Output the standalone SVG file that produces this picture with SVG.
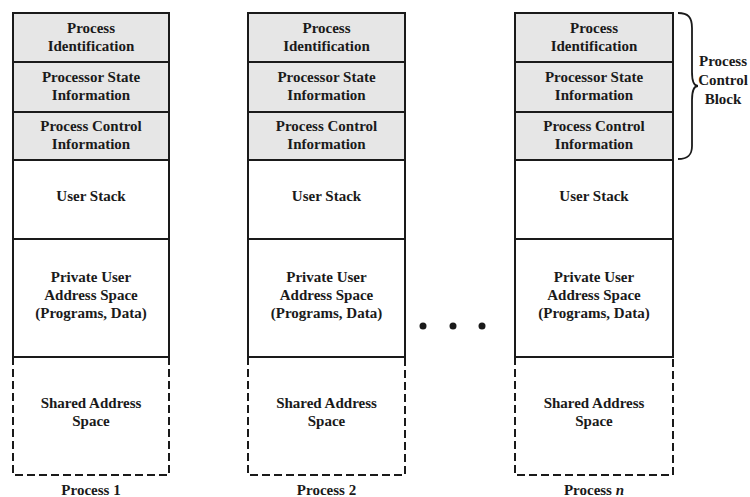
<svg xmlns="http://www.w3.org/2000/svg" width="750" height="497" viewBox="0 0 750 497" font-family="'Liberation Serif', serif">
<style>
  text { font-family: 'Liberation Serif', serif; font-weight: bold; font-size: 15px; fill: #1a1a1a; text-anchor: middle; }
  .pcb { fill: #e6e6e6; stroke: #1a1a1a; stroke-width: 2; }
  .plain { fill: #ffffff; stroke: #1a1a1a; stroke-width: 2; }
  .dash { fill: none; stroke: #1a1a1a; stroke-width: 2; stroke-dasharray: 8 4; }
  .solid { fill: none; stroke: #1a1a1a; stroke-width: 2; }
</style>
<rect width="750" height="497" fill="#ffffff"/>

<g id="process1">
  <rect class="pcb" x="13" y="13" width="156" height="49"/>
  <rect class="pcb" x="13" y="62" width="156" height="50"/>
  <rect class="pcb" x="13" y="112" width="156" height="48"/>
  <rect class="plain" x="13" y="160" width="156" height="79"/>
  <rect class="plain" x="13" y="239" width="156" height="118"/>
  <path class="dash" d="M13,357 V475 H169 V357"/>
  <line class="solid" x1="13" y1="357" x2="169" y2="357"/>
  <text x="91" y="33">Process</text>
  <text x="91" y="51">Identification</text>
  <text x="91" y="82">Processor State</text>
  <text x="91" y="100">Information</text>
  <text x="91" y="131">Process Control</text>
  <text x="91" y="149">Information</text>
  <text x="91" y="201">User Stack</text>
  <text x="91" y="282">Private User</text>
  <text x="91" y="300">Address Space</text>
  <text x="91" y="318">(Programs, Data)</text>
  <text x="91" y="408">Shared Address</text>
  <text x="91" y="426">Space</text>
  <text x="91" y="495">Process 1</text>
</g>

<g id="process2">
  <rect class="pcb" x="248" y="13" width="157" height="49"/>
  <rect class="pcb" x="248" y="62" width="157" height="50"/>
  <rect class="pcb" x="248" y="112" width="157" height="48"/>
  <rect class="plain" x="248" y="160" width="157" height="79"/>
  <rect class="plain" x="248" y="239" width="157" height="118"/>
  <path class="dash" d="M248,357 V475 H405 V357"/>
  <line class="solid" x1="248" y1="357" x2="405" y2="357"/>
  <text x="326.5" y="33">Process</text>
  <text x="326.5" y="51">Identification</text>
  <text x="326.5" y="82">Processor State</text>
  <text x="326.5" y="100">Information</text>
  <text x="326.5" y="131">Process Control</text>
  <text x="326.5" y="149">Information</text>
  <text x="326.5" y="201">User Stack</text>
  <text x="326.5" y="282">Private User</text>
  <text x="326.5" y="300">Address Space</text>
  <text x="326.5" y="318">(Programs, Data)</text>
  <text x="326.5" y="408">Shared Address</text>
  <text x="326.5" y="426">Space</text>
  <text x="326.5" y="495">Process 2</text>
</g>

<g id="ellipsis">
  <circle cx="423" cy="326" r="3.5" fill="#1a1a1a"/>
  <circle cx="453" cy="326" r="3.5" fill="#1a1a1a"/>
  <circle cx="482" cy="326" r="3.5" fill="#1a1a1a"/>
</g>

<g id="processn">
  <rect class="pcb" x="515" y="13" width="158" height="49"/>
  <rect class="pcb" x="515" y="62" width="158" height="50"/>
  <rect class="pcb" x="515" y="112" width="158" height="48"/>
  <rect class="plain" x="515" y="160" width="158" height="79"/>
  <rect class="plain" x="515" y="239" width="158" height="118"/>
  <path class="dash" d="M515,357 V475 H673 V357"/>
  <line class="solid" x1="515" y1="357" x2="673" y2="357"/>
  <text x="594" y="33">Process</text>
  <text x="594" y="51">Identification</text>
  <text x="594" y="82">Processor State</text>
  <text x="594" y="100">Information</text>
  <text x="594" y="131">Process Control</text>
  <text x="594" y="149">Information</text>
  <text x="594" y="201">User Stack</text>
  <text x="594" y="282">Private User</text>
  <text x="594" y="300">Address Space</text>
  <text x="594" y="318">(Programs, Data)</text>
  <text x="594" y="408">Shared Address</text>
  <text x="594" y="426">Space</text>
  <text x="594" y="495">Process <tspan font-style="italic">n</tspan></text>
</g>

<g id="pcb-label">
  <path d="M678,13 C688,13 692,17 692,28 L692,72 C692,81 694,86 698,86 C694,86 692,91 692,100 L692,146 C692,155 688,159 678,159" fill="none" stroke="#1a1a1a" stroke-width="1.8"/>
  <text x="723" y="66">Process</text>
  <text x="723" y="85">Control</text>
  <text x="723" y="104">Block</text>
</g>
</svg>
